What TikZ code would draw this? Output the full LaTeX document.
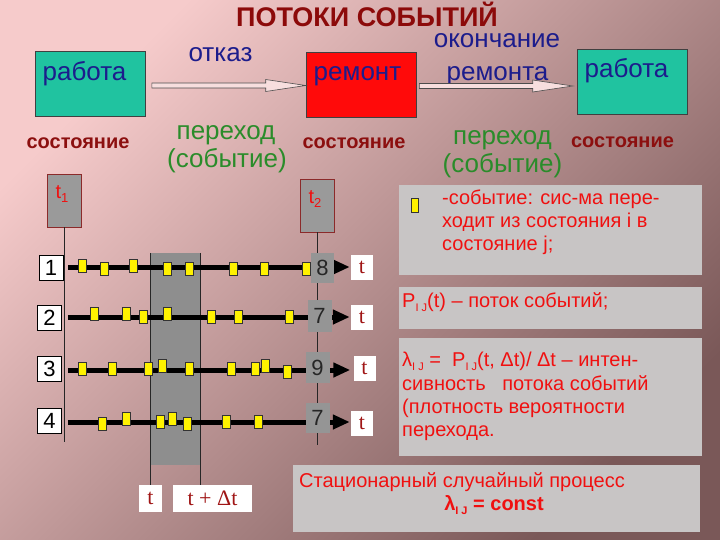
\documentclass[tikz,border=0pt]{standalone}
\usepackage{fontspec}
\setmainfont{Liberation Sans}
\newfontfamily\tnr{Liberation Serif}
\usetikzlibrary{calc,arrows.meta}
\newcommand\fsz[1]{\fontsize{#1}{#1}\selectfont}
\newcommand\subIJ{\raisebox{-4pt}{\fsz{11}I J}}
\definecolor{bgA}{HTML}{F6CBCB}
\definecolor{bgM}{HTML}{D6ADAD}
\definecolor{bgB}{HTML}{7A5858}
\definecolor{tealC}{HTML}{20C3A0}
\definecolor{redboxC}{HTML}{FF0A0A}
\definecolor{navyC}{HTML}{1C1C8C}
\definecolor{greenC}{HTML}{2A8C2A}
\definecolor{darkredC}{HTML}{8C0F0F}
\definecolor{titleC}{HTML}{8C0A0A}
\definecolor{panelC}{HTML}{C8C5C5}
\definecolor{bandC}{HTML}{8E8E8E}
\definecolor{numgray}{HTML}{959595}
\definecolor{tgray}{HTML}{9A9A9A}
\definecolor{tborder}{HTML}{8B2A2A}
\definecolor{redC}{HTML}{F01010}
\definecolor{tredC}{HTML}{A01515}
\definecolor{arrowC}{HTML}{F7DEDE}
\newcommand\blockarrow[3]{%
  \draw[blockarr] let \p1=(#1), \p2=(#2) in
    (\x1,\y1+2.5pt) -- (\x2-#3,\y1+2.5pt) -- (\x2-#3,\y1+6pt) -- (\x2,\y1)
    -- (\x2-#3,\y1-6pt) -- (\x2-#3,\y1-2.5pt) -- (\x1,\y1-2.5pt) -- cycle;}
\begin{document}
\begin{tikzpicture}[x=1pt,y=-1pt,
  statebox/.style={draw=black!75,line width=.6pt,inner sep=0,minimum width=110pt,minimum height=65pt},
  bigtxt/.style={font=\fsz{26},inner sep=0,anchor=base},
  navytxt/.style={bigtxt,text=navyC},
  greentxt/.style={bigtxt,text=greenC},
  statetxt/.style={font=\fsz{20}\bfseries,text=darkredC,inner sep=0,anchor=base},
  tbox/.style={draw=tborder,fill=tgray,line width=.5pt,inner sep=0,minimum width=34pt,minimum height=53pt},
  tlabel/.style={text=redC,font=\fsz{20},inner sep=0},
  rowline/.style={line width=5pt,-{Triangle[length=17pt,width=14pt]}},
  evt/.style={draw=black!80,fill=yellow,line width=.6pt,inner sep=0,minimum width=8pt,minimum height=13pt},
  numbox/.style={fill=numgray,inner sep=0,minimum width=24pt,minimum height=30pt,font=\fsz{22},text=black!85},
  rowlab/.style={draw=black,fill=white,line width=.8pt,inner sep=0,minimum width=24pt,minimum height=25pt,font=\fsz{22}},
  tword/.style={fill=white,inner sep=0,minimum width=22pt,minimum height=25pt,font=\tnr\fsz{22},text=tredC},
  panel/.style={fill=panelC,inner sep=0,minimum width=303pt},
  ptxt/.style={font=\fsz{20},text=redC,inner sep=0,anchor=base west},
  blockarr/.style={draw=black!70,fill=arrowC,line width=.6pt},
  vline/.style={line width=.8pt,draw=black!85}]
\useasboundingbox (0,0) rectangle (720,540);
\shade[top color=bgA, middle color=bgM, bottom color=bgB, shading angle=45] (0,0) rectangle (720,540);

% title
\node[font=\fsz{27}\bfseries,text=titleC,inner sep=0,anchor=base] (title) at (367,27) {ПОТОКИ СОБЫТИЙ};

% state boxes
\node[statebox,fill=tealC] (w1) at (90.5,84) {};
\node[statebox,fill=redboxC] (rep) at (361,84.5) {};
\node[statebox,fill=tealC] (w2) at (632,81.5) {};
\node[navytxt] (w1t) at (84.5,81) {работа};
\node[navytxt] (rept) at (357.5,81) {ремонт};
\node[navytxt] (w2t) at (626.5,78) {работа};
\node[navytxt] (otk) at (220.5,62) {отказ};
\node[navytxt] (ok1) at (497,48) {окончание};
\node[navytxt] (ok2) at (497.5,81) {ремонта};

% block arrows
\coordinate (a1s) at ([shift={(6,1.5)}]w1.east);
\coordinate (a1e) at (rep.west |- a1s);
\coordinate (a2s) at ([shift={(3,1.5)}]rep.east);
\coordinate (a2e) at ([xshift=-4pt]w2.west |- a2s);
\blockarrow{a1s}{a1e}{40pt}
\blockarrow{a2s}{a2e}{40pt}

% transitions and states
\node[greentxt] (p1a) at (226,140) {переход};
\node[greentxt] (p1b) at (227,168) {(событие)};
\node[greentxt] (p2a) at (502.5,145) {переход};
\node[greentxt] (p2b) at (502.5,173) {(событие)};
\node[statetxt] (s1) at (78,149) {состояние};
\node[statetxt] (s2) at (354,149) {состояние};
\node[statetxt] (s3) at (622.5,148) {состояние};

% t1, t2 markers
\node[tbox] (t1) at (64.5,200.5) {};
\node[tbox] (t2) at (317.5,205.5) {};
\node[tlabel] (t1l) at (62,194) {t\raisebox{-4pt}{\fsz{13}1}};
\node[tlabel] (t2l) at (315,199) {t\raisebox{-4pt}{\fsz{13}2}};

% interval band
\node[fill=bandC,inner sep=0,minimum width=49pt,minimum height=212pt] (band) at (175.5,359) {};
\node[tword,minimum width=23pt,minimum height=27pt] (tl) at (150.5,498.5) {t};
\node[tword,minimum width=79pt,minimum height=27pt] (tdl) at (212.5,498.5) {t + Δt};
\draw[vline] (band.north west) -- (band.north west |- tl.north);
\draw[vline] (band.north east) -- (band.north east |- tdl.north);

% vertical time lines
\coordinate (t1end) at ($(t1.south)+(0,215)$);
\coordinate (t2end) at ($(t2.south)+(0,213)$);
\draw[vline] (t1.south) -- (t1end);
\draw[vline] (t2.south) -- (t2end);

% row labels and t boxes
\node[rowlab] (l1) at (51,267.5) {1};
\node[rowlab] (l2) at (49.5,317.5) {2};
\node[rowlab] (l3) at (49.5,368.5) {3};
\node[rowlab] (l4) at (49.5,420.5) {4};
\node[tword] (tt1) at (362,267.5) {t};
\node[tword] (tt2) at (362,317.5) {t};
\node[tword] (tt3) at (364.5,368) {t};
\node[tword] (tt4) at (362,423) {t};

% row lines
\draw[rowline] ([xshift=5pt]l1.east |- 0,267) -- ([xshift=-1pt]tt1.west |- 0,267);
\draw[rowline] ([xshift=6pt]l2.east |- 0,317) -- ([xshift=-1pt]tt2.west |- 0,317);
\draw[rowline] ([xshift=6pt]l3.east |- 0,370) -- ([xshift=-3pt]tt3.west |- 0,370);
\draw[rowline] ([xshift=6pt]l4.east |- 0,422) -- ([xshift=-1pt]tt4.west |- 0,422);

% events
\foreach \x/\y [count=\i] in {82/266,104/269,133/266,167/269,189/269,233/269,264/269,306/269}
  \node[evt] (ea\i) at (\x,\y) {};
\foreach \x/\y [count=\i] in {94/314,126/314,143/317,167/314,211/317,238/317,289/317}
  \node[evt] (eb\i) at (\x,\y) {};
\foreach \x/\y [count=\i] in {82/369,112/369,148/369,162/366,189/369,231/369,255/369,265/366,287/372}
  \node[evt] (ec\i) at (\x,\y) {};
\foreach \x/\y [count=\i] in {102/424,126/419,160/422,172/419,187/424,226/422,258/422}
  \node[evt] (ed\i) at (\x,\y) {};

% counts
\node[numbox,minimum width=23pt] (n1) at (322.5,268) {8};
\node[numbox,minimum height=32pt] (n2) at (319.5,316) {7};
\node[numbox,minimum height=31pt] (n3) at (317.5,367.5) {9};
\node[numbox] (n4) at (317.5,418) {7};

% right panels
\node[panel,minimum height=90pt] (pa) at (550.5,230) {};
\node[panel,minimum height=42pt] (pb) at (550.5,308) {};
\node[panel,minimum height=118pt] (pc) at (550.5,397) {};
\node[panel,minimum width=407pt,minimum height=67pt] (pd) at (496.5,498.5) {};

\node[evt,minimum width=7pt,minimum height=14pt] (legend) at (415,205) {};
\node[ptxt] (pa1) at (442,205) {-событие: сис-ма пере-};
\node[ptxt] (pa2) at (442,228) {ходит из состояния i в};
\node[ptxt] (pa3) at (442,250) {состояние j;};

\node[ptxt] (pb1) at (402,307) {P\subIJ(t) – поток событий;};

\node[ptxt] (pc1) at (402,366) {λ\subIJ\ =\ \ P\subIJ(t, Δt)/ Δt – интен-};
\node[ptxt] (pc2) at (402,390) {сивность \ \ потока событий};
\node[ptxt] (pc3) at (402,413) {(плотность вероятности};
\node[ptxt] (pc4) at (402,436) {перехода.};

\node[ptxt,anchor=base] (pd1) at (462,487) {Стационарный случайный процесс};
\node[ptxt,anchor=base,font=\fsz{20}\bfseries] (pd2) at (494,510) {λ\subIJ\ = const};
\end{tikzpicture}
\end{document}
